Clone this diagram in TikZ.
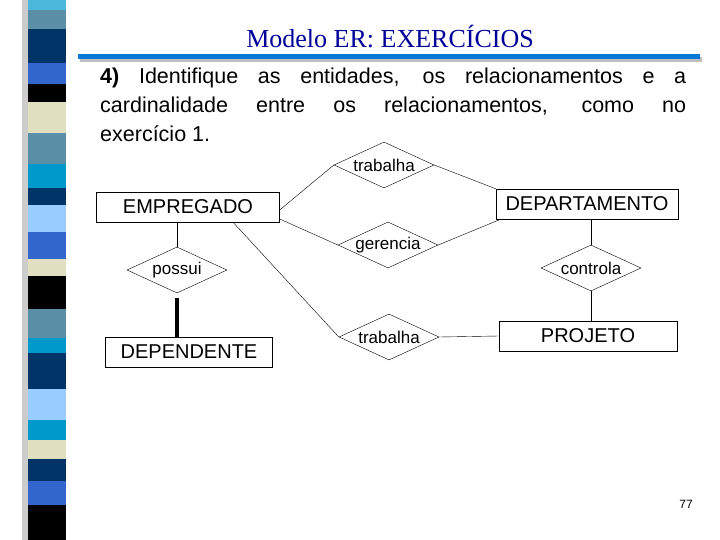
\documentclass[tikz,border=0pt]{standalone}
\usepackage{fontspec}
\setmainfont{Liberation Sans}
\newfontfamily\titlefont{Liberation Serif}
\usetikzlibrary{shapes.geometric,positioning}
\definecolor{navy}{HTML}{003366}
\definecolor{steel}{HTML}{5B8FA8}
\definecolor{royal}{HTML}{3366CC}
\definecolor{cyanb}{HTML}{0099CC}
\definecolor{lightb}{HTML}{99CCFF}
\definecolor{cream}{HTML}{E0E0C0}
\definecolor{titleblue}{HTML}{000099}
\tikzset{
  entity/.style={rectangle, draw=black, thin, minimum height=30pt, inner sep=0pt,
                 font=\fontsize{20}{20}\selectfont},
  relation/.style={diamond, draw=black, thin, aspect=2.2, minimum width=100pt, minimum height=46pt,
                   inner sep=0pt, font=\fontsize{17}{17}\selectfont},
  link/.style={draw, thin}
}
\begin{document}
\begin{tikzpicture}[x=1pt,y=1pt]
\useasboundingbox (0,0) rectangle (720,-540);
% stripe on the left
\fill[gray!40] (22,0) rectangle (30,-540);
\foreach \ya/\yb/\c in {0/10/cyanb!70,10/29/steel,29/63/navy,63/84/royal,84/102/black,
  102/133/cream,133/164/steel,164/188/cyanb,188/205/navy,205/232/lightb,232/259/royal,
  259/276/cream,276/309/black,309/338/steel,338/353/cyanb,353/389/navy,389/420/lightb,
  420/440/cyanb,440/459/cream,459/481/navy,481/505/royal,505/540/black}
  \fill[\c] (28,-\ya) rectangle (66,-\yb);
% title
\node[font=\titlefont\fontsize{26}{26}\selectfont, text=titleblue] (title) at (390,-37) {Modelo ER: EXERCÍCIOS};
\fill[gray!50] (80,-57) rectangle (702,-62);
\fill[cyanb!80!blue] (78,-54) rectangle (700,-59);
% statement
\node[anchor=north west, text width=586pt, align=justify, inner sep=0pt,
      font=\fontsize{21.5}{29}\selectfont] (text) at (100,-68)
  {\textbf{4)} Identifique as entidades, os relacionamentos e a\linebreak
   cardinalidade entre os relacionamentos, como no\linebreak exercício 1.};
% entities
\node[entity, minimum width=183pt] (emp) at (188,-207) {EMPREGADO};
\node[entity, minimum width=182pt] (dep) at (587,-204) {DEPARTAMENTO};
\node[entity, minimum width=167pt] (dpd) at (189,-352) {DEPENDENTE};
\node[entity, minimum width=178pt] (proj) at (588,-336) {PROJETO};
% relationships
\node[relation] (trab1) at (384,-165) {trabalha};
\node[relation] (ger) at (388,-245) {gerencia};
\node[relation] (pos) at (177,-270) {possui};
\node[relation] (ctl) at (591,-268) {controla};
\node[relation] (trab2) at (389,-337) {trabalha};
% connectors
\draw[link] ([yshift=-3pt]emp.east) -- (trab1.west);
\draw[link] (trab1.east) -- (dep.north west);
\draw[link] ([yshift=-12pt]emp.east) -- (ger.west);
\draw[link] (ger.east) -- ([xshift=5pt]dep.south west);
\draw[link] ([xshift=45pt]emp.south) -- (trab2.west);
\draw[link] (trab2.east) -- (proj.west);
\draw[link] (emp.south -| pos.north) -- (pos.north);
\draw[line width=4pt] ([yshift=-5pt]pos.south) -- (pos.south |- dpd.north);
\draw[link] (dep.south -| ctl.north) -- (ctl.north);
\draw[link] (ctl.south) -- (ctl.south |- proj.north);
% page number
\node[font=\fontsize{12}{12}\selectfont] (page) at (686,-504) {77};
\end{tikzpicture}
\end{document}
